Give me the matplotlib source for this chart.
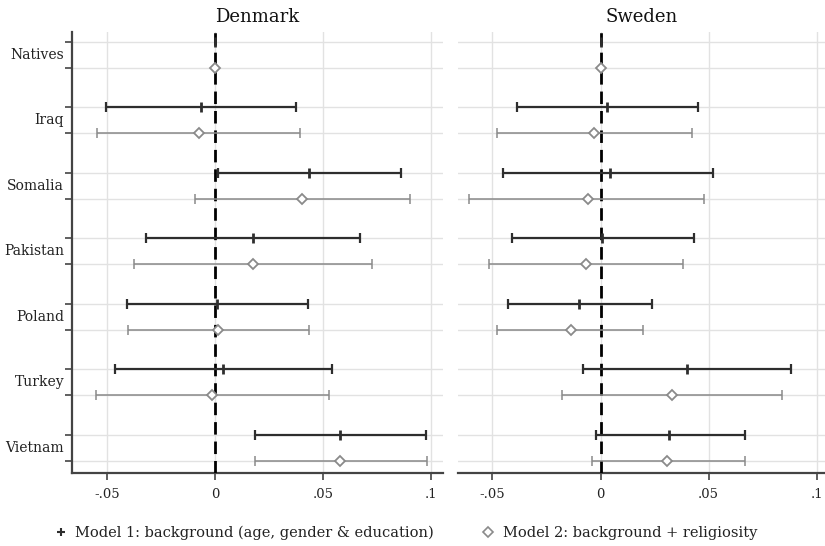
import matplotlib
matplotlib.use("Agg")
import matplotlib.pyplot as plt
from matplotlib.lines import Line2D
import numpy as np

plt.rcParams['font.family'] = ['DejaVu Serif']

categories = ["Natives", "Iraq", "Somalia", "Pakistan", "Poland", "Turkey", "Vietnam"]

# Denmark
dk_m1_est = [0.0, -0.0068, 0.0436, 0.0177, 0.0008, 0.0035, 0.0579]
dk_m1_lo = [None, -0.0508, 0.0012, -0.0319, -0.0407, -0.0465, 0.0186]
dk_m1_hi = [None, 0.0374, 0.0859, 0.0671, 0.0431, 0.0541, 0.0976]
dk_m2_est = [0.0, -0.0077, 0.0400, 0.0174, 0.0015, -0.0016, 0.0577]
dk_m2_lo = [None, -0.0547, -0.0096, -0.0377, -0.0404, -0.0553, 0.0182]
dk_m2_hi = [None, 0.0393, 0.0901, 0.0725, 0.0436, 0.0525, 0.0979]

# Sweden
se_m1_est = [0.0, 0.0032, 0.0043, 0.0008, -0.0100, 0.0400, 0.0318]
se_m1_lo = [None, -0.0388, -0.0449, -0.0409, -0.0429, -0.0080, -0.0020]
se_m1_hi = [None, 0.0451, 0.0522, 0.0431, 0.0240, 0.0882, 0.0669]
se_m2_est = [0.0, -0.0031, -0.0058, -0.0069, -0.0138, 0.0331, 0.0308]
se_m2_lo = [None, -0.0477, -0.0608, -0.0517, -0.0477, -0.0178, -0.0038]
se_m2_hi = [None, 0.0422, 0.0480, 0.0380, 0.0198, 0.0838, 0.0669]

x_ticks = [-0.05, 0, 0.05, 0.1]
x_tick_labels = ["-.05", "0", ".05", ".1"]

panels = [
    ("Denmark", dk_m1_est, dk_m1_lo, dk_m1_hi, dk_m2_est, dk_m2_lo, dk_m2_hi),
    ("Sweden", se_m1_est, se_m1_lo, se_m1_hi, se_m2_est, se_m2_lo, se_m2_hi),
]

m1_color = "#2e2e2e"
m2_color = "#8a8a8a"
grid_color = "#e2e2e2"
spine_color = "#444444"

fig = plt.figure(figsize=(8.25, 5.46), dpi=100)
W, H = 825, 546
bottom_px, top_px = 473, 31.7
ax_rects = [
    (71.7 / W, 1 - bottom_px / H, (443 - 71.7) / W, (bottom_px - top_px) / H),
    (458 / W, 1 - bottom_px / H, (825 - 458) / W, (bottom_px - top_px) / H),
]
xlims = [(-0.0665, 0.1055), (-0.0659, 0.1038)]

n = len(categories)
y_m1 = np.arange(n) * 2.5
y_m2 = y_m1 + 1.0

for i, (title, e1, l1, h1, e2, l2, h2) in enumerate(panels):
    ax = fig.add_axes(ax_rects[i])
    ax.set_xlim(*xlims[i])
    ax.set_ylim(y_m2[-1] + 0.47, -0.38)

    # gridlines
    for y in np.concatenate([y_m1, y_m2]):
        ax.axhline(y, color=grid_color, lw=1.0, zorder=0)
    for xt in x_ticks:
        ax.axvline(xt, color=grid_color, lw=1.0, zorder=0)

    ax.axvline(0, color="black", lw=2.0, ls=(0, (4.5, 2.5)), zorder=3)

    for k in range(n):
        if l1[k] is not None:
            ax.errorbar(e1[k], y_m1[k], xerr=[[e1[k] - l1[k]], [h1[k] - e1[k]]],
                        fmt='none', ecolor=m1_color, elinewidth=1.6,
                        capsize=3.8, capthick=1.6, zorder=4)
        if l2[k] is not None:
            ax.errorbar(e2[k], y_m2[k], xerr=[[e2[k] - l2[k]], [h2[k] - e2[k]]],
                        fmt='none', ecolor=m2_color, elinewidth=1.1,
                        capsize=3.3, capthick=1.1, zorder=4)
    ax.plot(e1, y_m1, ls='none', marker='|', ms=7, mew=2.0, color=m1_color, zorder=5)
    ax.plot(e2, y_m2, ls='none', marker='D', ms=5.5, mew=1.3,
            mfc='white', mec=m2_color, zorder=5)

    ax.set_xticks(x_ticks)
    ax.set_xticklabels(x_tick_labels, fontsize=9.5, color="#222222")
    ax.tick_params(axis='x', length=5, width=1.2, color=spine_color, pad=6)

    ax.spines['top'].set_visible(False)
    ax.spines['right'].set_visible(False)
    ax.spines['bottom'].set_color(spine_color)
    ax.spines['bottom'].set_linewidth(1.6)

    if i == 0:
        ax.set_yticks(np.concatenate([y_m1, y_m2]))
        ax.set_yticklabels([])
        ax.tick_params(axis='y', length=5, width=1.2, color=spine_color)
        ax.spines['left'].set_color(spine_color)
        ax.spines['left'].set_linewidth(1.6)
        for k, cat in enumerate(categories):
            ax.annotate(cat, xy=(0, (y_m1[k] + y_m2[k]) / 2),
                        xycoords=ax.get_yaxis_transform(),
                        xytext=(-5.5, 0), textcoords='offset points',
                        ha='right', va='center', fontsize=10, color="#222222")
    else:
        ax.set_yticks([])
        ax.spines['left'].set_visible(False)

    ax.set_title(title, fontsize=13, pad=7, color="#111111")

handles = [
    Line2D([], [], ls='none', marker='+', ms=6, mew=1.5, color=m1_color),
    Line2D([], [], ls='none', marker='D', ms=5, mew=1.2, mfc='white', mec=m2_color),
]
labels = ["Model 1: background (age, gender & education)", "Model 2: background + religiosity"]
fig.legend(handles, labels, loc='center', bbox_to_anchor=(0.492, 1 - 533 / H), ncol=2,
           frameon=False, fontsize=10.5, handlelength=0.8, handletextpad=0.6,
           columnspacing=3.3, labelcolor="#222222")

fig.savefig("out.png", dpi=100, facecolor="white")
